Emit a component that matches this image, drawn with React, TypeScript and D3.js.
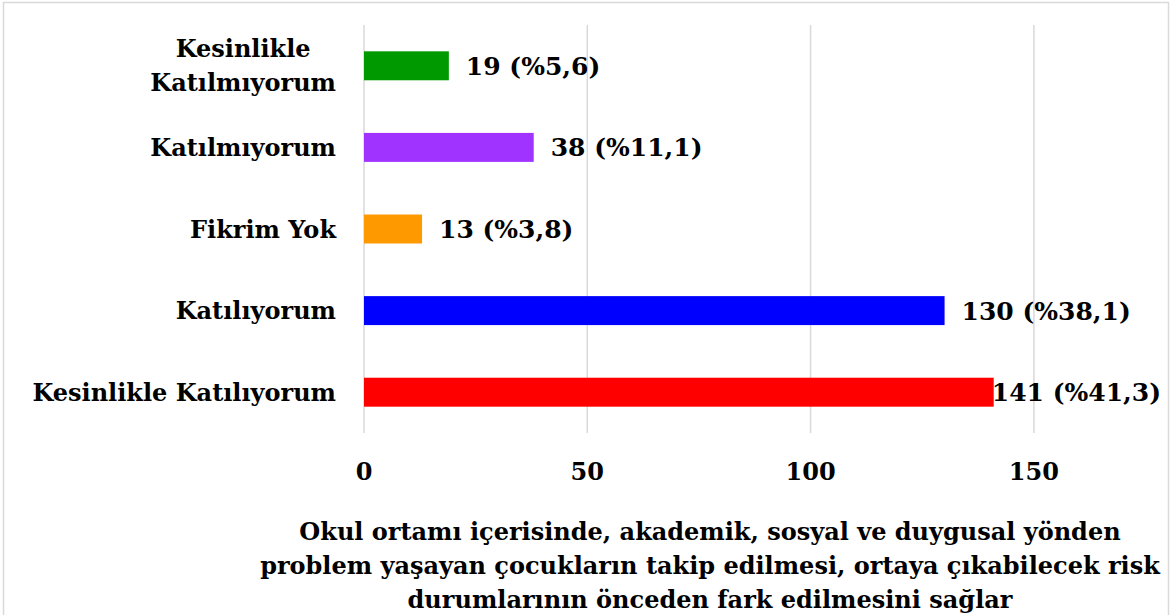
import React, { useEffect, useRef } from "react";
import * as d3 from "d3";

const categories: string[][] = [
  ["Kesinlikle", "Katılmıyorum"],
  ["Katılmıyorum"],
  ["Fikrim Yok"],
  ["Katılıyorum"],
  ["Kesinlikle Katılıyorum"],
];
const counts: number[] = [19, 38, 13, 130, 141];
const percents: string[] = ["%5,6", "%11,1", "%3,8", "%38,1", "%41,3"];
const colors: string[] = ["#009900", "#a033ff", "#ff9900", "#0000ff", "#ff0000"];
const ticks: number[] = [0, 50, 100, 150];
const titleLines: string[] = [
  "Okul ortamı içerisinde, akademik, sosyal ve duygusal yönden",
  "problem yaşayan çocukların takip edilmesi, ortaya çıkabilecek risk",
  "durumlarının önceden fark edilmesini sağlar",
];

const W = 1172;
const H = 615;
const FONT = "'DejaVu Serif', serif";

export default function App() {
  const ref = useRef<SVGSVGElement>(null);

  useEffect(() => {
    const svg = d3.select(ref.current);
    svg.selectAll("*").remove();

    const x = d3.scaleLinear().domain([0, 160]).range([364, 364 + 160 * 4.466]);
    const y = d3
      .scaleBand<number>()
      .domain(d3.range(categories.length))
      .range([25, 433])
      .paddingInner(0.645)
      .paddingOuter(0.3225);

    // frame
    svg
      .append("rect")
      .attr("x", 3.5)
      .attr("y", 2.5)
      .attr("width", 1165)
      .attr("height", 620)
      .attr("fill", "none")
      .attr("stroke", "#d9d9d9")
      .attr("stroke-width", 1.5);

    // gridlines
    svg
      .append("g")
      .selectAll("line")
      .data(ticks)
      .join("line")
      .attr("x1", (d) => x(d))
      .attr("x2", (d) => x(d))
      .attr("y1", 25)
      .attr("y2", 433)
      .attr("stroke", "#d9d9d9")
      .attr("stroke-width", 1.5);

    // bars
    svg
      .append("g")
      .selectAll("rect")
      .data(counts)
      .join("rect")
      .attr("x", x(0))
      .attr("y", (_, i) => y(i)!)
      .attr("width", (d) => x(d) - x(0))
      .attr("height", y.bandwidth())
      .attr("fill", (_, i) => colors[i]);

    // tick labels
    svg
      .append("g")
      .selectAll("text")
      .data(ticks)
      .join("text")
      .attr("x", (d) => x(d))
      .attr("y", 480)
      .attr("text-anchor", "middle")
      .attr("font-family", FONT)
      .attr("font-weight", "bold")
      .attr("font-size", 24)
      .text((d) => String(d));

    // category labels
    const labelRight = 336;
    categories.forEach((lines, i) => {
      const cy = y(i)! + y.bandwidth() / 2;
      const g = svg.append("g");
      const lh = 34;
      const texts = lines.map((ln, j) =>
        g
          .append("text")
          .attr("x", 0)
          .attr("y", cy + 8.5 + (j - (lines.length - 1) / 2) * lh)
          .attr("text-anchor", "middle")
          .attr("font-family", FONT)
          .attr("font-weight", "bold")
          .attr("font-size", 24)
          .text(ln)
      );
      const maxW = d3.max(texts, (t) => (t.node() as SVGTextElement).getComputedTextLength()) || 0;
      g.attr("transform", `translate(${labelRight - maxW / 2},0)`);
    });

    // value labels
    const rightLimit = 1161;
    counts.forEach((v, i) => {
      const cy = y(i)! + y.bandwidth() / 2;
      const t = svg
        .append("text")
        .attr("x", x(v) + 17)
        .attr("y", cy + 9)
        .attr("font-family", FONT)
        .attr("font-weight", "bold")
        .attr("font-size", 25)
        .text(`${v} (${percents[i]})`);
      const w = (t.node() as SVGTextElement).getComputedTextLength();
      if (x(v) + 17 + w > rightLimit) t.attr("x", rightLimit - w);
    });

    // title
    svg
      .append("g")
      .selectAll("text")
      .data(titleLines)
      .join("text")
      .attr("x", 710)
      .attr("y", (_, i) => 540 + i * 34)
      .attr("text-anchor", "middle")
      .attr("font-family", FONT)
      .attr("font-weight", "bold")
      .attr("font-size", 24)
      .text((d) => d);
  }, []);

  return (
    <svg
      ref={ref}
      width={W}
      height={H}
      style={{ position: "absolute", left: 0, top: 0, display: "block", background: "#fff" }}
    />
  );
}
